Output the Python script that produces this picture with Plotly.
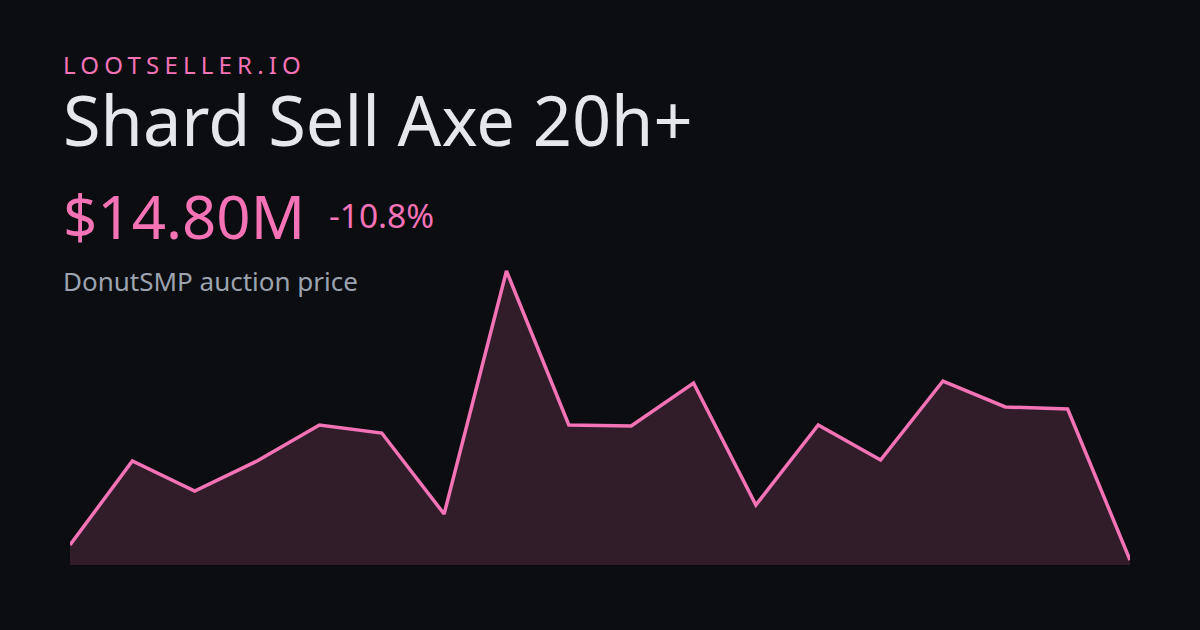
import plotly.graph_objects as go

# auction price history (millions), oldest -> newest
points = list(range(18))
prices = [16.59, 26.62, 23.04, 26.62, 30.92, 29.96, 20.29, 49.31, 30.92,
          30.80, 35.93, 21.37, 30.92, 26.74, 36.17, 33.07, 32.83, 14.80]
baseline = [14.20] * len(points)

site = "LOOTSELLER.IO"
title = "Shard Sell Axe 20h+"
price_label = "$14.80M"
change_label = "-10.8%"
subtitle = "DonutSMP auction price"

BG = "#0c0d10"
PINK = "#f472b6"

fig = go.Figure()
fig.add_trace(go.Scatter(x=points, y=baseline, mode="lines",
                         line=dict(width=0), hoverinfo="skip", showlegend=False))
fig.add_trace(go.Scatter(x=points, y=prices, mode="lines", fill="tonexty",
                         fillcolor="rgba(244,114,182,0.16)",
                         line=dict(color=PINK, width=3.5),
                         hoverinfo="skip", showlegend=False))

H_TOP, H_BOT = 260, 565
def py(px):
    return (H_BOT - px) / (H_BOT - H_TOP)

font = "Noto Sans"
fig.add_annotation(x=0, xref="paper", y=py(64.5), yref="paper", xanchor="left", yanchor="middle",
                   text='<span style="letter-spacing:5.2px">' + site + "</span>", showarrow=False,
                   font=dict(family=font, size=24, color=PINK), xshift=-9)
fig.add_annotation(x=0, xref="paper", y=py(120), yref="paper", xanchor="left", yanchor="middle",
                   text=title, showarrow=False,
                   font=dict(family=font, size=68.5, color="#e5e7eb"), xshift=-9)
fig.add_annotation(x=0, xref="paper", y=py(216), yref="paper", xanchor="left", yanchor="middle",
                   text=price_label, showarrow=False,
                   font=dict(family=font, size=60, color=PINK), xshift=-9)
fig.add_annotation(x=0, xref="paper", y=py(215), yref="paper", xanchor="left", yanchor="middle",
                   text=change_label, showarrow=False,
                   font=dict(family=font, size=33.5, color=PINK), xshift=257)
fig.add_annotation(x=0, xref="paper", y=py(281), yref="paper", xanchor="left", yanchor="middle",
                   text=subtitle, showarrow=False,
                   font=dict(family=font, size=26, color="#9ca3af"), xshift=-9)

fig.update_layout(
    width=1200, height=630,
    paper_bgcolor=BG, plot_bgcolor=BG,
    margin=dict(l=70, r=70, t=H_TOP, b=630 - H_BOT),
    xaxis=dict(visible=False, range=[0, 17], fixedrange=True),
    yaxis=dict(visible=False, range=[14.20, 50.62], fixedrange=True),
    font=dict(family=font),
)

fig.write_html("out.html", config={"displayModeBar": False},
               post_script="document.body.style.margin='0';document.body.style.background='#0c0d10';")
